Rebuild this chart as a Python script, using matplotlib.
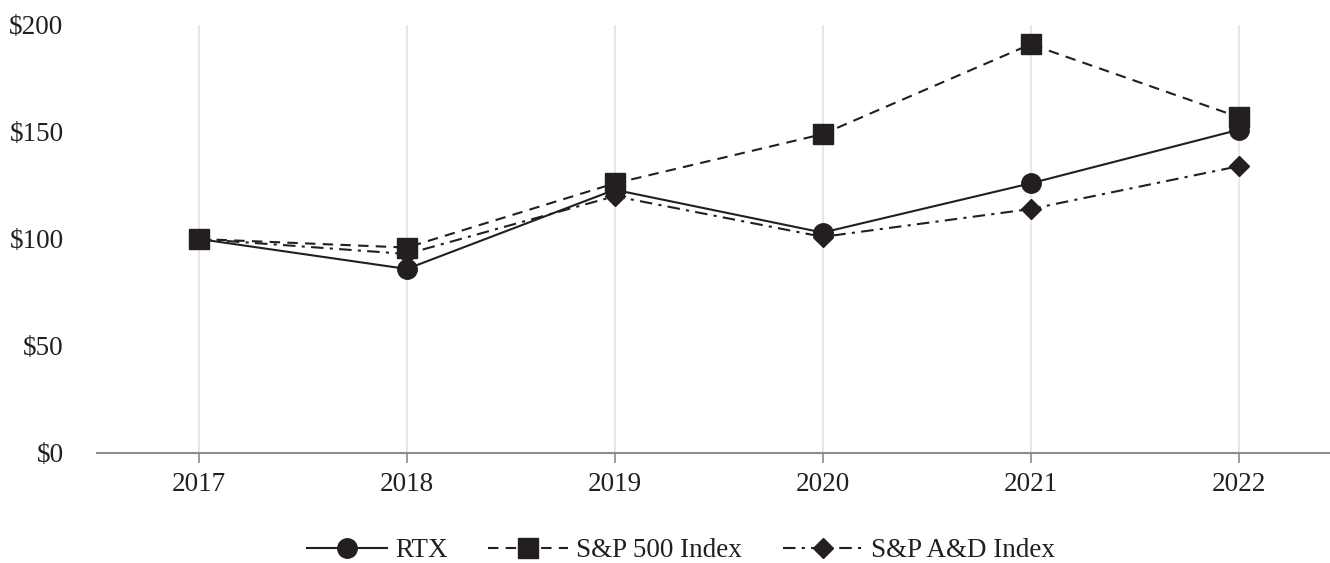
import matplotlib.pyplot as plt
from matplotlib.ticker import FuncFormatter

plt.rcParams['font.family'] = ['Liberation Serif', 'DejaVu Serif']

years = [2017, 2018, 2019, 2020, 2021, 2022]
rtx = [100, 86, 123, 103, 126, 151]
sp500 = [100, 96, 126, 149, 191, 157]
spad = [100, 93, 120, 101, 114, 134]

ink = '#231f20'

fig = plt.figure(figsize=(13.3, 5.63), dpi=100)
ax = fig.add_axes([0.0729, 0.1954, 0.9271, 0.7602])

# draw order: A&D first, then RTX, then S&P 500 on top
ax.plot(years, spad, color=ink, lw=1.5, ls=(0, (6, 3, 1.5, 3)), marker='D', ms=10,
        label='S&P A&D Index', zorder=3)
ax.plot(years, rtx, color=ink, lw=1.5, ls='-', marker='o', ms=14,
        label='RTX', zorder=4)
ax.plot(years, sp500, color=ink, lw=1.5, ls=(0, (5, 3.5)), marker='s', ms=14,
        label='S&P 500 Index', zorder=5)

ax.set_xlim(2016.51, 2022.44)
ax.set_ylim(0, 200)
ax.set_xticks(years)
ax.set_yticks([0, 50, 100, 150, 200])
ax.yaxis.set_major_formatter(FuncFormatter(lambda v, p: f'${v:.0f}'))

ax.grid(axis='x', color='#e3e3e3', lw=1.2)
ax.set_axisbelow(True)
for s in ['top', 'right', 'left']:
    ax.spines[s].set_visible(False)
ax.spines['bottom'].set_color('#8c8c8c')
ax.spines['bottom'].set_linewidth(1.5)

ax.tick_params(axis='y', length=0, pad=24, labelsize=19.5, labelcolor=ink)
ax.tick_params(axis='x', length=7, width=1.2, color='#8c8c8c', pad=7,
               labelsize=19.5, labelcolor=ink)

h, l = ax.get_legend_handles_labels()
order = [1, 2, 0]
fig.legend([h[i] for i in order], [l[i] for i in order], loc='center',
           bbox_to_anchor=(0.512, 0.022), ncol=3, frameon=False, fontsize=19.5,
           handlelength=2.95, handletextpad=0.3, columnspacing=1.5,
           labelcolor=ink, borderpad=0)

fig.savefig('out.png', dpi=100)
